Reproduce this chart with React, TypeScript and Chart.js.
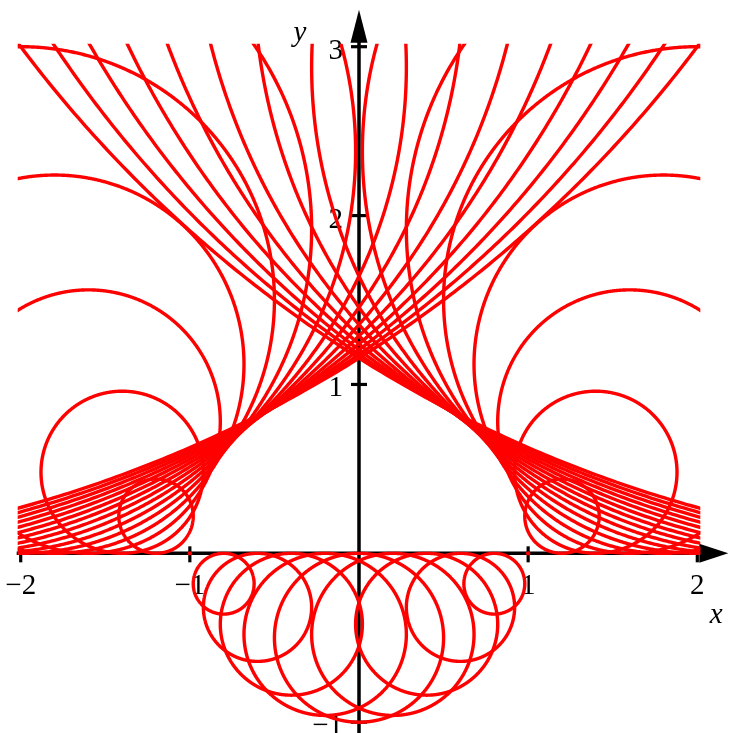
import React, { useEffect, useRef } from "react";
import { Chart, registerables } from "chart.js";

Chart.register(...registerables);

// Family of circles, each one touching the x-axis at tangentX.
// A positive radius puts the circle above the axis, a negative one hangs it below.
const tangentX = [
  -4, -3.8, -3.6, -3.4, -3.2, -3, -2.8, -2.6, -2.4, -2.2, -2, -1.8, -1.6, -1.4, -1.2,
  -0.8, -0.6, -0.4, -0.2, 0, 0.2, 0.4, 0.6, 0.8,
  1.2, 1.4, 1.6, 1.8, 2, 2.2, 2.4, 2.6, 2.8, 3, 3.2, 3.4, 3.6, 3.8, 4,
];
const radius = [
  7.5, 6.72, 5.98, 5.28, 4.62, 4, 3.42, 2.88, 2.38, 1.92, 1.5, 1.12, 0.78, 0.48, 0.22,
  -0.18, -0.32, -0.42, -0.48, -0.5, -0.48, -0.42, -0.32, -0.18,
  0.22, 0.48, 0.78, 1.12, 1.5, 1.92, 2.38, 2.88, 3.42, 4, 4.62, 5.28, 5.98, 6.72, 7.5,
];

// Members of the family that shrink to a single point.
const dotX = [-1, 1];
const dotY = [0, 0];

const xTicks = [-2, -1, 1, 2];
const yTicks = [-1, 1, 2, 3];

const RED = "#ff0000";
const SERIF = '"Liberation Serif", "DejaVu Serif", serif';

function circlePoints(cx: number, r: number) {
  const pts: { x: number; y: number }[] = [];
  const steps = 720;
  const a = Math.abs(r);
  for (let i = 0; i <= steps; i++) {
    const t = (2 * Math.PI * i) / steps;
    pts.push({ x: cx + a * Math.sin(t), y: r - r * Math.cos(t) });
  }
  return pts;
}

const label = (v: number) => (v < 0 ? "\u2212" + Math.abs(v) : String(v));

const axesPlugin = {
  id: "mapleAxes",
  beforeDatasetsDraw(chart: any) {
    const { ctx } = chart;
    const xs = chart.scales.x;
    const ys = chart.scales.y;
    const x0 = xs.getPixelForValue(0);
    const y0 = ys.getPixelForValue(0);
    ctx.save();
    ctx.strokeStyle = "#000";
    ctx.fillStyle = "#000";
    ctx.lineWidth = 3.5;
    ctx.lineCap = "butt";

    // horizontal axis
    ctx.beginPath();
    ctx.moveTo(xs.left - 4, y0);
    ctx.lineTo(xs.right + 8, y0);
    ctx.stroke();
    ctx.beginPath();
    ctx.moveTo(xs.right + 2, y0 - 9.5);
    ctx.lineTo(xs.right + 31, y0);
    ctx.lineTo(xs.right + 2, y0 + 9.5);
    ctx.closePath();
    ctx.fill();

    // vertical axis
    ctx.beginPath();
    ctx.moveTo(x0, chart.height + 2);
    ctx.lineTo(x0, ys.top - 10);
    ctx.stroke();
    ctx.beginPath();
    ctx.moveTo(x0 - 8.5, ys.top - 4);
    ctx.lineTo(x0, ys.top - 37);
    ctx.lineTo(x0 + 8.5, ys.top - 4);
    ctx.closePath();
    ctx.fill();

    // ticks
    ctx.lineWidth = 3.2;
    for (const v of xTicks) {
      const px = xs.getPixelForValue(v);
      ctx.beginPath();
      ctx.moveTo(px, y0 - 7);
      ctx.lineTo(px, y0 + 9);
      ctx.stroke();
    }
    for (const v of yTicks) {
      const py = ys.getPixelForValue(v);
      ctx.beginPath();
      ctx.moveTo(x0 - 8, py);
      ctx.lineTo(x0 + 8, py);
      ctx.stroke();
    }

    // tick labels
    ctx.font = `29px ${SERIF}`;
    ctx.textBaseline = "alphabetic";
    ctx.textAlign = "center";
    for (const v of xTicks) {
      ctx.fillText(label(v), xs.getPixelForValue(v), y0 + 41);
    }
    ctx.textAlign = "right";
    for (const v of yTicks) {
      ctx.fillText(label(v), x0 - 16, ys.getPixelForValue(v) + 12);
    }

    // axis names
    ctx.font = `italic 29px ${SERIF}`;
    ctx.textAlign = "center";
    ctx.fillText("x", xs.right + 19, y0 + 70);
    ctx.fillText("y", x0 - 59, ys.top - 6);
    ctx.restore();
  },
};

export default function App() {
  const ref = useRef<HTMLCanvasElement>(null);

  useEffect(() => {
    const circles = tangentX.map((cx, i) => ({
      data: circlePoints(cx, radius[i]),
      showLine: true,
      borderColor: RED,
      borderWidth: 3.4,
      borderJoinStyle: "round",
      pointRadius: 0,
      pointHoverRadius: 0,
      fill: false,
      tension: 0.0001,
      clip: 3,
    }));
    const dots = {
      data: dotX.map((x, i) => ({ x, y: dotY[i] })),
      showLine: false,
      pointRadius: 2.2,
      pointBackgroundColor: RED,
      pointBorderWidth: 0,
      clip: 3,
    };

    const chart = new Chart(ref.current as HTMLCanvasElement, {
      type: "scatter",
      data: { datasets: [...circles, dots] as any },
      options: {
        responsive: false,
        maintainAspectRatio: false,
        animation: false,
        events: [],
        elements: { line: { capBezierPoints: false } },
        layout: { padding: { left: 20.7, right: 32.7, top: 46.7, bottom: 10.8 } },
        scales: {
          x: { type: "linear", min: -2, max: 2, display: false },
          y: { type: "linear", min: -1, max: 3, display: false },
        },
        plugins: { legend: { display: false }, tooltip: { enabled: false } },
      },
      plugins: [axesPlugin],
    });
    return () => chart.destroy();
  }, []);

  return (
    <div style={{ position: "absolute", left: 0, top: 0, width: 730, height: 733, background: "#fff" }}>
      <canvas ref={ref} width={730} height={733} style={{ display: "block" }} />
    </div>
  );
}
